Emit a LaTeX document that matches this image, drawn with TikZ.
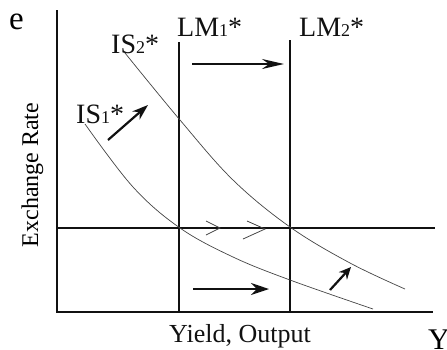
\documentclass[tikz,border=0pt]{standalone}
\usepackage{fontspec}
\setmainfont{Liberation Serif}
\usepackage{xcolor}
\definecolor{ChartInk}{HTML}{111111}
\definecolor{CurveGrey}{HTML}{444444}
\usetikzlibrary{positioning,arrows.meta,calc}
\newcommand{\lbsub}[1]{{\fontsize{18}{18}\selectfont #1}}
\tikzset{
  axisline/.style={draw=ChartInk,line width=1.4pt},
  curveline/.style={draw=CurveGrey,line width=0.7pt},
  shiftarrow/.style={-{Stealth[length=16pt,width=11pt]},draw=ChartInk,line width=2.2pt},
  chevron/.style={draw=CurveGrey,line width=0.8pt},
  curvelabel/.style={inner sep=0pt,font=\fontsize{28}{28}\selectfont,text=ChartInk},
  axislabel/.style={inner sep=0pt,font=\fontsize{26}{26}\selectfont,text=ChartInk}
}

\begin{document}
\begin{tikzpicture}[x=1pt,y=-1pt]
  \useasboundingbox (0,0) rectangle (447,349);
  \clip (0,0) rectangle (447,349);
  % axes
  \coordinate (origin) at (57,312);
  \coordinate (ytop) at (57,10);
  \coordinate (xend) at (433,312);
  \draw[axisline] (ytop) -- (origin) -- (xend);
  \coordinate (eqleft) at (57,228);
  \coordinate (eqright) at (435,228);
  \draw[axisline] (eqleft) -- (eqright);
  % LM curves
  \coordinate (lmonetop) at (179,42);
  \coordinate (lmonebot) at (179,312);
  \coordinate (lmtwotop) at (290,40);
  \coordinate (lmtwobot) at (290,312);
  \draw[axisline] (lmonetop) -- (lmonebot);
  \draw[axisline] (lmtwotop) -- (lmtwobot);
  % IS curves
  \draw[curveline] plot[smooth,tension=0.6] coordinates {(125,53) (180,120) (233,180) (290,227) (350,263) (405,289)};
  \draw[curveline] plot[smooth,tension=0.6] coordinates {(85,124) (133,187) (180,228) (233,257) (290,280) (373,309)};
  % labels
  \node[inner sep=0pt,font=\fontsize{33}{33}\selectfont,anchor=base west] (elabel) at (9,29) {e};
  \node[curvelabel,anchor=base west] (lmonelabel) at (177,36) {LM\lbsub{1}*};
  \node[curvelabel,anchor=base west] (lmtwolabel) at (299,36) {LM\lbsub{2}*};
  \node[curvelabel,anchor=base west] (istwolabel) at (111,53) {IS\lbsub{2}*};
  \node[curvelabel,anchor=base west] (isonelabel) at (76,123) {IS\lbsub{1}*};
  \node[inner sep=0pt,font=\fontsize{24}{24}\selectfont,rotate=90,anchor=base] (ylabel) at (38,175) {Exchange Rate};
  \node[axislabel,anchor=base] (xlabel) at (240,342) {Yield, Output};
  \node[inner sep=0pt,font=\fontsize{30}{30}\selectfont,anchor=north west] (yvar) at (428,330) {Y};
  % shift arrows
  \coordinate (lmshifta) at (192,64);
  \coordinate (lmshiftb) at (284,64);
  \draw[shiftarrow,-{Stealth[length=22pt,width=10pt]}] (lmshifta) -- (lmshiftb);
  \coordinate (lmshiftc) at (193,289);
  \coordinate (lmshiftd) at (269,289);
  \draw[shiftarrow,-{Stealth[length=18pt,width=12pt]}] (lmshiftc) -- (lmshiftd);
  \coordinate (isshifta) at (108,140);
  \coordinate (isshiftb) at (148,105);
  \draw[shiftarrow] (isshifta) -- (isshiftb);
  \coordinate (isshiftc) at (330,290);
  \coordinate (isshiftd) at (351,267);
  \draw[shiftarrow,-{Stealth[length=12pt,width=11pt]}] (isshiftc) -- (isshiftd);
  % chevrons on the equilibrium line
  \draw[chevron] (206,221) -- (220,228) -- (206,235);
  \draw[chevron] (247,221) -- (265,229) -- (243,239);
\end{tikzpicture}
\end{document}
